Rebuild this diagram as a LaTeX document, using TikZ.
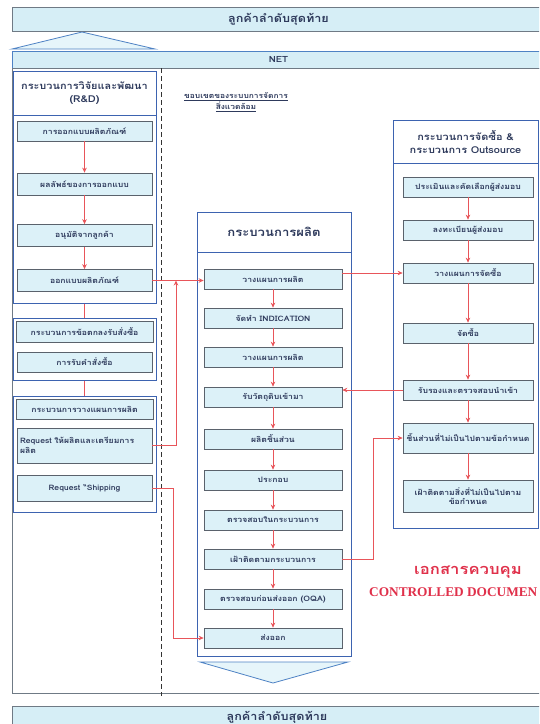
\documentclass[tikz,border=0pt]{standalone}
\usepackage{fontspec}
\newfontfamily\thai[Script=Thai, FakeStretch=1.15]{Loma}
\newfontfamily\serifb{Liberation Serif}
\usetikzlibrary{arrows.meta,calc}
\definecolor{boxfill}{HTML}{DCF1F8}
\definecolor{boxdraw}{HTML}{5A626C}
\definecolor{fblue}{HTML}{3D63B0}
\definecolor{redl}{HTML}{E8555A}
\definecolor{txt}{HTML}{2E3A5C}
\definecolor{bannerfill}{HTML}{D6EEF6}
\definecolor{bannerdraw}{HTML}{6F7A85}
\definecolor{netdraw}{HTML}{4E82C4}
\definecolor{docred}{HTML}{E0304A}
\tikzset{
  box/.style={draw=boxdraw, fill=boxfill, line width=0.7pt, minimum height=20pt, inner sep=1pt,
    font=\thai\bfseries\fontsize{7.5}{9.5}\selectfont, text=txt, align=center},
  rbox/.style={box, minimum width=135pt},
  mbox/.style={box, minimum width=138pt},
  pbox/.style={box, minimum width=130pt},
  frame/.style={draw=fblue, line width=1pt},
  hdr/.style={draw=fblue, fill=white, line width=0.8pt, inner sep=1pt,
    font=\thai\bfseries\fontsize{9.5}{13}\selectfont, text=txt, align=center},
  flow/.style={draw=redl, line width=1pt, -{Stealth[length=5pt,width=4.5pt]}},
  link/.style={draw=redl, line width=1pt},
  banner/.style={draw=bannerdraw, fill=bannerfill, line width=0.8pt,
    font=\thai\bfseries\fontsize{11}{13}\selectfont, text=txt},
  chev/.style={draw=netdraw, fill=bannerfill!60, line width=0.8pt}
}
\begin{document}
\begin{tikzpicture}[x=1pt,y=-1pt]
\useasboundingbox (0,0) rectangle (539,724);
\clip (0,0) rectangle (539,724);
\fill[white] (0,0) rectangle (539,724);

% top banner
\node[banner, minimum width=533pt, minimum height=24pt] (topb) at (278.5,19) {ลูกค้าลำดับสุดท้าย};
\draw[chev] (12,49) -- (82,32) -- (155,49) -- cycle;
\node[banner, draw=netdraw, minimum width=533pt, minimum height=17pt, font=\thai\bfseries\fontsize{8.5}{10}\selectfont] (net) at (278.5,59.5) {NET};

% big frame
\draw[draw=bannerdraw, line width=0.8pt] (12,68) rectangle (560,693);
\coordinate (dtop) at (161,68);
\coordinate (dbot) at (161,696);
\draw[line width=1pt, dash pattern=on 5pt off 3pt, draw=black!80] (dtop) -- (dbot);

% boundary label
\node[font=\thai\bfseries\fontsize{7.3}{11}\selectfont, text=txt, align=center] (scope) at (236,102)
  {\underline{ขอบเขตของระบบการจัดการ}\\\underline{สิ่งแวดล้อม}};

% R&D column
\node[frame, minimum width=143pt, minimum height=232pt] (rdf) at (84.5,187) {};
\node[hdr, minimum width=143pt, minimum height=44pt] (rdh) at (84.5,93) {กระบวนการวิจัยและพัฒนา\\(R\&D)};
\node[rbox] (rd1) at (84.5,131) {การออกแบบผลิตภัณฑ์};
\node[rbox, minimum height=22pt] (rd2) at (84.5,184) {ผลลัพธ์ของการออกแบบ};
\node[rbox, minimum height=22pt] (rd3) at (84.5,235.5) {อนุมัติจากลูกค้า};
\node[rbox, minimum height=22pt] (rd4) at (84.5,280.5) {ออกแบบผลิตภัณฑ์};
\draw[flow] (rd1) -- (rd2);
\draw[flow] (rd2) -- (rd3);
\draw[flow] (rd3) -- (rd4);

% order agreement
\node[frame, minimum width=143pt, minimum height=62pt] (g2f) at (84.5,349) {};
\node[box, minimum width=137pt, minimum height=21pt] (g2h) at (84.5,331.5) {กระบวนการข้อตกลงรับสั่งซื้อ};
\node[rbox] (g2a) at (84.5,362) {การรับคำสั่งซื้อ};
\draw[link] (rdf.south) -- (g2f.north);

% planning
\node[frame, minimum width=143pt, minimum height=116pt] (g3f) at (84.5,454) {};
\node[box, minimum width=137pt, minimum height=20pt] (g3h) at (84.5,409) {กระบวนการวางแผนการผลิต};
\node[rbox, minimum height=35pt, align=left, text width=129pt] (req) at (84.5,445.5) {Request ให้ผลิตและเตรียมการ\\ผลิต};
\node[rbox, minimum height=26pt] (ship) at (84.5,488) {Request “Shipping};
\draw[link] (g2f.south) -- (g3f.north);

% production column
\node[frame, minimum width=154pt, minimum height=444pt] (mpf) at (274,434) {};
\node[hdr, minimum width=154pt, minimum height=40pt, font=\thai\bfseries\fontsize{11.4}{13}\selectfont] (mph) at (274,232) {กระบวนการผลิต};
\node[mbox] (mp1) at (273,279) {วางแผนการผลิต};
\node[mbox] (mp2) at (273,318) {จัดทำ INDICATION};
\node[mbox] (mp3) at (273,357) {วางแผนการผลิต};
\node[mbox] (mp4) at (273,397) {รับวัตถุดิบเข้ามา};
\node[mbox] (mp5) at (273,439) {ผลิตชิ้นส่วน};
\node[mbox] (mp6) at (273,480) {ประกอบ};
\node[mbox] (mp7) at (273,520) {ตรวจสอบในกระบวนการ};
\node[mbox] (mp8) at (273,559) {เฝ้าติดตามกระบวนการ};
\node[mbox] (mp9) at (273,599) {ตรวจสอบก่อนส่งออก (OQA)};
\node[mbox] (mp10) at (273,638) {ส่งออก};
\foreach \a/\b in {mp1/mp2,mp2/mp3,mp3/mp4,mp4/mp5,mp5/mp6,mp6/mp7,mp7/mp8,mp8/mp9,mp9/mp10}
  \draw[flow] (\a) -- (\b);
\draw[chev] (200,662) -- (273,683) -- (348,662) -- cycle;

% purchasing column
\node[frame, minimum width=145pt, minimum height=408pt] (rpf) at (465.5,324) {};
\node[hdr, minimum width=145pt, minimum height=43pt] (rph) at (465.5,141.5) {กระบวนการจัดซื้อ \&\\กระบวนการ Outsource};
\node[pbox] (rp1) at (468,187) {ประเมินและคัดเลือกผู้ส่งมอบ};
\node[pbox] (rp2) at (468,230) {ลงทะเบียนผู้ส่งมอบ};
\node[pbox] (rp3) at (468,273) {วางแผนการจัดซื้อ};
\node[pbox] (rp4) at (468,333) {จัดซื้อ};
\node[pbox] (rp5) at (468,390) {รับรองและตรวจสอบนำเข้า};
\node[pbox, minimum height=30pt] (rp6) at (468,438) {ชิ้นส่วนที่ไม่เป็นไปตามข้อกำหนด};
\node[pbox, minimum height=32pt] (rp7) at (468,496) {เฝ้าติดตามสิ่งที่ไม่เป็นไปตาม\\ข้อกำหนด};
\foreach \a/\b in {rp1/rp2,rp2/rp3,rp3/rp4,rp4/rp5,rp5/rp6,rp6/rp7}
  \draw[flow] (\a) -- (\b);

% cross connectors
\draw[flow] (rd4.east) -- (rd4.east -| mp1.west);
\coordinate (j1) at (176,280.5);
\draw[flow] (req.east) -| (j1);
\draw[flow] (ship.east) -- ++(21,0) |- (mp10.west);
\draw[flow] (mp1.east |- rp3.west) -- (rp3.west);
\draw[flow] (rp5.west) -- (rp5.west -| mp4.east);
\draw[flow] (mp8.east) -- ++(31,0) |- (rp6.west);

% controlled document stamp
\node[font=\thai\bfseries\fontsize{14.5}{16}\selectfont, text=docred] (stamp1) at (468,572) {เอกสารควบคุม};
\node[font=\serifb\bfseries\fontsize{13.3}{16}\selectfont, text=docred, anchor=west, inner sep=0pt] (stamp2) at (369,592) {CONTROLLED DOCUMEN};

% bottom banner
\node[banner, minimum width=533pt, minimum height=30pt] (botb) at (278.5,721) {};
\node[font=\thai\bfseries\fontsize{11}{13}\selectfont, text=txt] (botl) at (277,717) {ลูกค้าลำดับสุดท้าย};
\end{tikzpicture}
\end{document}
